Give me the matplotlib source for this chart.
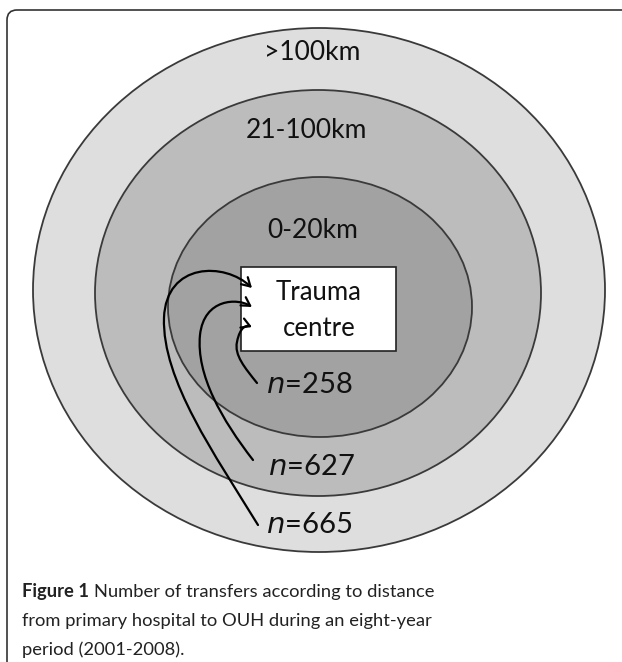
import matplotlib.pyplot as plt
from matplotlib.patches import Ellipse, FancyBboxPatch, FancyArrowPatch, Rectangle
from matplotlib.path import Path

# Zonas de distancia (de fuera hacia dentro) y traslados por zona
zonas = ['>100km', '21-100km', '0-20km']
traslados = [665, 627, 258]
pie = ('Number of transfers according to distance\n'
       'from primary hospital to OUH during an eight-year\n'
       'period (2001-2008).')

# Geometría en píxeles (x, y, ancho, alto) de cada elipse
elipses = [(319, 290, 572, 524), (318, 293, 446, 406), (320, 307, 304, 260)]
colores = ['#dedede', '#bcbcbc', '#a2a2a2']
pos_zona = [(312, 52), (306, 131), (313, 231)]
pos_n = [(266, 525), (268, 467), (266, 385)]

fig = plt.figure(figsize=(6.22, 6.62), dpi=100)
ax = fig.add_axes([0, 0, 1, 1])
ax.set_xlim(0, 622)
ax.set_ylim(662, 0)
ax.axis('off')

marco = FancyBboxPatch((7, 10), 640, 670, boxstyle='round,pad=0,rounding_size=10',
                       fc='white', ec='#333333', lw=1.2)
ax.add_patch(marco)

for (cx, cy, w, h), c in zip(elipses, colores):
    ax.add_patch(Ellipse((cx, cy), w, h, fc=c, ec='#3a3a3a', lw=1.3))

for z, (x, y) in zip(zonas, pos_zona):
    ax.text(x, y, z, ha='center', va='center', fontsize=19, family='Lato', color='#111111')

ax.add_patch(Rectangle((241, 267), 155, 84, fc='white', ec='#222222', lw=1.2))
ax.text(319, 292, 'Trauma', ha='center', va='center', fontsize=18.5,
        family='Lato', color='#111111')
ax.text(319, 328, 'centre', ha='center', va='center', fontsize=18.5,
        family='Lato', color='#111111')

for n, (x, y) in zip(traslados, pos_n):
    ax.text(x, y, f'$\\mathit{{n}}$={n}', ha='left', va='center', fontsize=21,
            family='Lato', color='#111111')

# Flechas curvas hacia el centro
curvas = [
    [(258, 525), (215, 455), (162, 380), (164, 318), (166, 262), (225, 262), (252, 288)],
    [(253, 460), (222, 420), (196, 375), (200, 335), (204, 298), (238, 298), (252, 307)],
    [(257, 383), (245, 368), (234, 355), (237, 342), (240, 326), (247, 325), (252, 327)],
]
codes = [Path.MOVETO] + [Path.CURVE4] * 6
for v in curvas:
    ax.add_patch(FancyArrowPatch(path=Path(v, codes), arrowstyle='->,head_length=6,head_width=3.5',
                                 color='black', lw=1.6))

# Pie de figura
fs = 13.2
t = ax.text(22, 592, 'Figure 1 ', fontsize=fs, fontweight='bold', family='Lato',
            va='center', ha='left', color='#222222')
fig.canvas.draw()
bb = t.get_window_extent()
lineas = pie.split('\n')
ax.text(bb.x1, 592, lineas[0], fontsize=fs, family='Lato', va='center', ha='left', color='#222222')
ax.text(22, 621, lineas[1], fontsize=fs, family='Lato', va='center', ha='left', color='#222222')
ax.text(22, 650, lineas[2], fontsize=fs, family='Lato', va='center', ha='left', color='#222222')

fig.savefig('out.png', dpi=100)
